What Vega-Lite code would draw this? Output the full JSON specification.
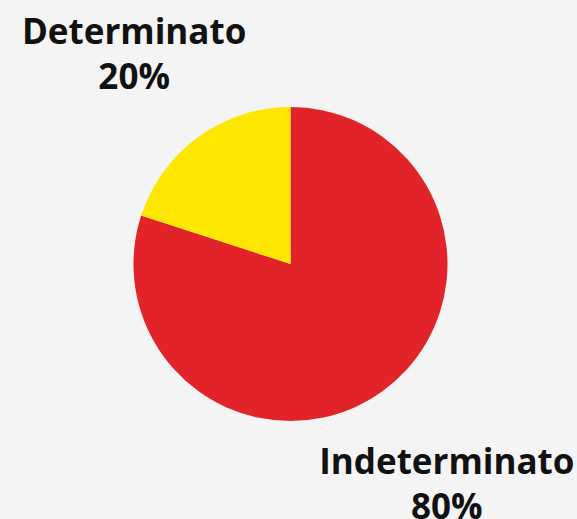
{
  "$schema": "https://vega.github.io/schema/vega-lite/v6.json",
  "width": 573,
  "height": 510,
  "autosize": "none",
  "padding": {"left": 4, "top": 9, "right": 0, "bottom": 0},
  "background": "#f4f4f4",
  "config": {"view": {"stroke": null}},
  "data": {
    "values": [
      {"categoria": "Indeterminato", "valore": 80, "etichetta": "Indeterminato\n80%", "ordine": 1},
      {"categoria": "Determinato", "valore": 20, "etichetta": "Determinato\n20%", "ordine": 2}
    ]
  },
  "encoding": {
    "theta": {"field": "valore", "type": "quantitative", "stack": true},
    "order": {"field": "ordine", "type": "quantitative"}
  },
  "layer": [
    {
      "mark": {"type": "arc", "outerRadius": 157},
      "encoding": {
        "color": {
          "field": "categoria",
          "type": "nominal",
          "scale": {"domain": ["Indeterminato", "Determinato"], "range": ["#e2232a", "#fde700"]},
          "legend": null
        }
      }
    },
    {
      "mark": {
        "type": "text",
        "radius": 266,
        "dy": -16,
        "font": "Open Sans",
        "fontWeight": "bold",
        "fontSize": 35,
        "lineBreak": "\n",
        "lineHeight": 45,
        "align": "center",
        "baseline": "middle",
        "color": "#111111"
      },
      "encoding": {
        "text": {"field": "etichetta", "type": "nominal"}
      }
    }
  ]
}
